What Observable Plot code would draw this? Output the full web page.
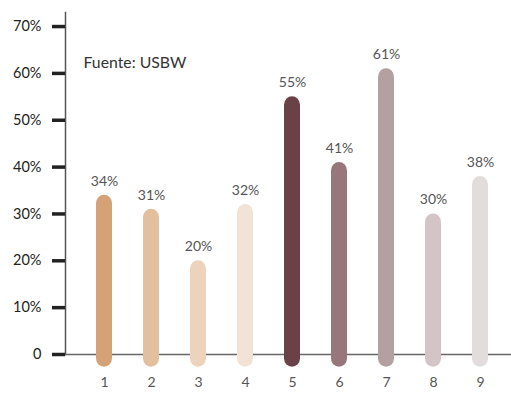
<!DOCTYPE html>
<html>
<head>
<meta charset="utf-8">
<script src="https://cdn.jsdelivr.net/npm/d3@7"></script>
<script src="https://cdn.jsdelivr.net/npm/@observablehq/plot@0.6"></script>
<style>
  html, body { margin: 0; padding: 0; background: #fff; }
  #chart svg { display: block; }
</style>
</head>
<body>
<div id="chart"></div>
<script>
const categories = ["1", "2", "3", "4", "5", "6", "7", "8", "9"];
const values = [34, 31, 20, 32, 55, 41, 61, 30, 38];
const colors = ["#D4A276", "#E3BF9E", "#EDD3BC", "#F3E2D6", "#6B4148", "#98777A", "#B5A0A1", "#D3C5C7", "#E3DCDD"];
const yTicks = [0, 10, 20, 30, 40, 50, 60, 70];
const source = "Fuente: USBW";

const data = categories.map((c, i) => ({cat: c, value: values[i], color: colors[i]}));

const chart = Plot.plot({
  width: 511,
  height: 393,
  marginLeft: 65,
  marginRight: 0,
  marginTop: 12,
  marginBottom: 39,
  style: {fontFamily: "Lato, 'Noto Sans', sans-serif", background: "#fff"},
  x: {type: "band", domain: categories, paddingInner: 0.65, paddingOuter: 0.5, align: 0.57, label: null},
  y: {domain: [0, 73], label: null},
  marks: [
    Plot.frame({anchor: "left", stroke: "#555", strokeWidth: 1.5}),
    Plot.ruleY([0], {stroke: "#666", strokeWidth: 1.5}),
    Plot.axisY({ticks: yTicks, tickSize: 13, tickPadding: 11, strokeWidth: 3.5, stroke: "#222", fill: "#222", fontSize: 14.5,
      tickFormat: d => d === 0 ? "0" : d + "%", label: null}),
    Plot.axisX({tickSize: 0, tickPadding: 23, fontSize: 14, fill: "#555", label: null}),
    Plot.barY(data, {x: "cat", y1: -2.7, y2: "value", fill: "color", rx: 8.5}),
    Plot.text(data, {x: "cat", y: "value", text: d => d.value + "%", dy: -14, fontSize: 14, fill: "#555"}),
    Plot.text([source], {frameAnchor: "top-left", dx: 18, dy: 50, textAnchor: "start", lineAnchor: "middle", fontSize: 15.8, fill: "#333"})
  ]
});
document.getElementById("chart").appendChild(chart);
</script>
</body>
</html>
